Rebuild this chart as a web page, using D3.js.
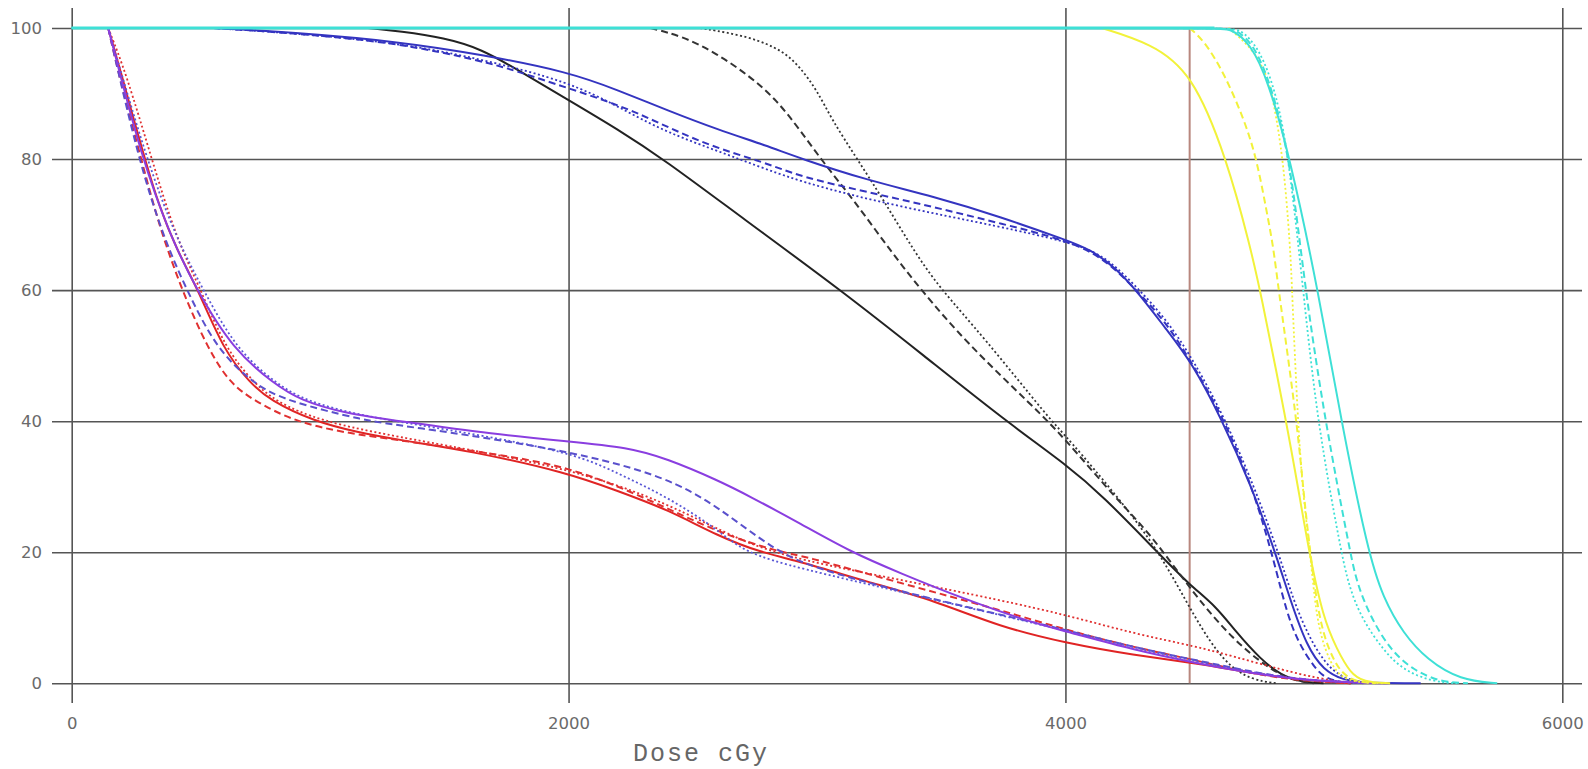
<!DOCTYPE html>
<html lang="en">
<head>
<meta charset="UTF-8">
<title>DVH</title>
<script src="https://cdn.jsdelivr.net/npm/d3@7"></script>
<style>
  body { margin: 0; background: #fff; }
  svg { display: block; }
</style>
</head>
<body>
<svg width="1588" height="769"></svg>
<script>
// ticks
var xTicks = [0, 2000, 4000, 6000];
var yTicks = [0, 20, 40, 60, 80, 100];
var refDose = 4500;

// [dose cGy, volume %]
var blackSolid = [[1193,100],[1322,99.5],[1500,98.5],[1650,96.8],[1800,93.5],[2000,89],[2200,84.5],[2382,80],[2700,71],[3096,60],[3430,50],[3760,40],[4006,33.3],[4153,28.5],[4368,20.1],[4500,15],[4605,11.8],[4685,7.9],[4787,3.6],[4870,1.2],[4945,0.25],[5039,0]];
var blackDashed = [[2330,100],[2462,98.7],[2597,96.1],[2731,92.6],[2838,89],[2932,84.4],[3039,78.8],[3147,73.8],[3294,66.1],[3415,60.2],[3603,51.9],[3871,42.2],[3992,37.6],[4207,28],[4341,22.9],[4515,13.7],[4676,6.6],[4811,2.5],[4905,0.5],[5000,0]];
var blackDotted = [[2530,100],[2731,98.7],[2865,96.5],[2932,94],[3000,90.5],[3060,86],[3160,80.1],[3267,73.8],[3388,66.1],[3496,60.2],[3670,52.9],[3938,40.2],[4006,37.6],[4220,28],[4380,20],[4520,10],[4640,3],[4750,0.5],[4850,0]];

var blueSolid = [[570,100],[900,99.3],[1322,97.9],[1656,95.9],[2000,93.3],[2200,90.5],[2400,87.4],[2600,84.5],[2800,82],[2932,80.1],[3200,76.8],[3468,74.3],[3737,71.2],[4006,67.6],[4100,66.2],[4200,63.5],[4300,59.3],[4400,54.3],[4509,49],[4630,40.2],[4744,30.5],[4844,20.1],[4905,12.7],[4972,5.6],[5039,2],[5118,0.5],[5200,0.05],[5430,0]];
var blueDashed = [[570,100],[900,99.2],[1322,97.7],[1656,94.9],[1777,93.6],[2000,90.8],[2262,87.5],[2530,82.4],[2798,79.4],[2932,77.3],[3200,75],[3468,72.7],[3737,70.2],[4006,67.6],[4150,65],[4274,60.5],[4408,55],[4515,48.5],[4640,40.2],[4740,31],[4800,24],[4850,17],[4890,11],[4932,6.6],[4999,2.5],[5052,0.5],[5150,0]];
var blueDotted = [[570,100],[900,99.2],[1322,97.7],[1656,95.2],[2000,91.8],[2200,88],[2395,84],[2663,80.4],[2932,76.4],[3335,72.7],[3737,69.7],[4006,67.4],[4150,65.5],[4274,61],[4408,55.5],[4520,49],[4645,40.2],[4760,30],[4857,20],[4917,12.7],[4985,6.6],[5065,2],[5150,0.3],[5250,0]];

var redSolid = [[147,100],[200,93],[250,86],[295,80],[350,73],[423,66.1],[510,60],[610,50.9],[718,45.8],[798,43.2],[973,40],[1150,38.3],[1322,37.1],[1600,35.5],[2000,32.1],[2200,29.3],[2400,26.5],[2600,22.5],[2771,20],[2932,18.6],[3200,15.5],[3469,12.7],[3737,8.6],[4006,6.1],[4274,4.3],[4529,3.05],[4744,1.6],[4945,0.5],[5146,0]];
var redDashed = [[147,100],[195,92],[280,80],[350,70],[443,60],[550,50.9],[637,45.8],[731,43.2],[892,40],[1100,38.2],[1322,37.1],[1700,35],[2000,33.1],[2300,28.5],[2600,23],[2850,20],[2932,19.6],[3335,15.3],[3737,11.2],[4006,8.1],[4274,5.5],[4529,3.5],[4744,1.5],[4945,0.4],[5150,0]];
var redDotted = [[147,100],[220,93],[322,80],[420,68],[520,60],[620,51],[730,46],[820,43],[1000,40],[1322,37.5],[2000,33],[2400,27.5],[2700,21.5],[2932,18.8],[3335,15.8],[3737,12.7],[4006,10.4],[4274,7.6],[4529,5.6],[4676,4.1],[4878,2],[5012,0.8],[5146,0]];

var purpleSolid = [[147,100],[282,80],[400,68],[503,60],[650,50.9],[812,45.8],[919,43.2],[1100,41.2],[1322,40],[1700,38],[2000,36.9],[2240,36],[2395,34.3],[2600,31],[2731,28.5],[2932,24.4],[3133,20.1],[3335,16.8],[3603,12.7],[3871,9.2],[4006,7.9],[4274,5.1],[4529,3.05],[4744,1.6],[4945,0.5],[5200,0.05],[5300,0]];
var purpleDashed = [[147,100],[268,80],[370,68],[463,60],[584,50.9],[731,45.8],[852,43.2],[1188,40],[1322,39.4],[2000,35.6],[2395,31.5],[2600,27],[2838,20],[3000,17.5],[3335,14],[3737,10.5],[4006,8.1],[4274,5.5],[4529,3.5],[4744,1.8],[4945,0.5],[5250,0]];
var purpleDotted = [[147,100],[300,80],[420,68],[530,60],[663,50.9],[830,45.5],[950,43],[1150,41],[1322,39.9],[2000,35.6],[2200,32],[2395,28.5],[2600,23.5],[2704,20],[2932,17.5],[3335,14],[3737,10.4],[4006,8],[4274,5.5],[4529,3.3],[4744,1.7],[4945,0.5],[5200,0]];

var yellowSolid = [[4146,100],[4341,97.7],[4509,93.3],[4650,80],[4744,66.6],[4784,60],[4889,40],[4945,28],[4981,20],[5037,10],[5094,5.1],[5146,1.6],[5199,0.2],[5307,0]];
var yellowDashed = [[4500,100],[4560,98],[4640,93],[4720,86],[4770,80],[4810,72],[4837,66.6],[4858,60],[4932,40],[4960,28.5],[4985,20],[5020,10],[5060,5],[5110,1.5],[5170,0.2],[5250,0]];
var yellowDotted = [[4656,100],[4750,97],[4810,93],[4837,89],[4877,80],[4905,66.6],[4912,60],[4935,40],[4957,28.5],[4985,20],[5010,10],[5045,5],[5090,1.5],[5150,0.2],[5280,0]];

var cyanSolid = [[0,100],[4600,100],[4663,100],[4744,97.7],[4816,92],[4905,80],[5017,60],[5110,40],[5218,20],[5279,13],[5360,7.6],[5456,3.6],[5589,0.5],[5738,0]];
var cyanDashed = [[0,100],[4620,100],[4680,100],[4760,97.5],[4830,91],[4905,80],[4965,60],[5045,40],[5146,20],[5173,15.3],[5227,10.2],[5307,5.1],[5400,2],[5509,0.2],[5620,0]];
var cyanDotted = [[0,100],[4640,100],[4700,100],[4780,97],[4850,90],[4900,80],[4957,60],[5013,40],[5110,20],[5140,15],[5190,10],[5280,5],[5360,2],[5480,0.2],[5580,0]];

var svg = d3.select('svg');

// scales: x 0..6000, y 0..100
var x = d3.scaleLinear().domain([0, 6000]).range([71.7, 1562.3]);
var y = d3.scaleLinear().domain([0, 100]).range([683.3, 28]);

// grid lines stick out 20px past the plot on every side
var axisY = d3.axisLeft(y).tickValues(yTicks).tickSize(-1530).tickPadding(10).tickFormat(d3.format('d'));
var axisX = d3.axisBottom(x).tickValues(xTicks).tickSize(-695).tickPadding(14).tickFormat(d3.format('d'));

var gy = svg.append('g').attr('transform', 'translate(52,0)').call(axisY);
var gx = svg.append('g').attr('transform', 'translate(0,703)').call(axisX);

[gx, gy].forEach(function (g) {
    g.select('.domain').remove();
    g.selectAll('line').attr('stroke', '#555').attr('stroke-width', 1.6);
    g.selectAll('text')
        .attr('fill', '#6a6a6a')
        .style('font-family', '"DejaVu Sans", Verdana, sans-serif')
        .style('font-size', '16.5px');
});

// x axis title
svg.append('text')
    .attr('x', 633).attr('y', 761)
    .attr('fill', '#666')
    .style('font-family', '"Courier New", "Liberation Mono", monospace')
    .style('font-size', '25px')
    .style('letter-spacing', '2px')
    .text('Dose cGy');

// reference dose line
svg.append('line')
    .attr('x1', x(refDose)).attr('x2', x(refDose))
    .attr('y1', y(100)).attr('y2', y(0))
    .attr('stroke', '#b8877e').attr('stroke-width', 2);

var line = d3.line()
    .x(function (d) { return x(d[0]); })
    .y(function (d) { return y(d[1]); })
    .curve(d3.curveBasis);

var DASH = '7,4', DOT = '2,2.5';
var curves = [
    {d: blackSolid, c: '#222', s: null},
    {d: blackDashed, c: '#333', s: DASH},
    {d: blackDotted, c: '#333', s: DOT},
    {d: blueSolid, c: '#3434c0', s: null},
    {d: blueDashed, c: '#3434c0', s: DASH},
    {d: blueDotted, c: '#3434c0', s: DOT},
    {d: redSolid, c: '#e02424', s: null},
    {d: redDashed, c: '#e03030', s: DASH},
    {d: redDotted, c: '#e03030', s: DOT},
    {d: purpleDashed, c: '#5a50cc', s: DASH},
    {d: purpleDotted, c: '#5a58d6', s: DOT},
    {d: purpleSolid, c: '#8a3ee0', s: null},
    {d: yellowSolid, c: '#f2f23a', s: null},
    {d: yellowDashed, c: '#f2f23a', s: DASH},
    {d: yellowDotted, c: '#f2f23a', s: DOT},
    {d: cyanDotted, c: '#3ee0d6', s: DOT},
    {d: cyanDashed, c: '#3ee0d6', s: DASH},
    {d: cyanSolid, c: '#3ee0d6', s: null}
];

svg.append('g').selectAll('path').data(curves).enter().append('path')
    .attr('d', function (k) { return line(k.d); })
    .attr('fill', 'none')
    .attr('stroke', function (k) { return k.c; })
    .attr('stroke-width', function (k) { return k.s === DOT ? 1.8 : 2; })
    .attr('stroke-dasharray', function (k) { return k.s; });

// cyan plateau at 100% sits on top
svg.append('path')
    .attr('d', line(cyanSolid.slice(0, 2)))
    .attr('fill', 'none').attr('stroke', '#3ee0d6').attr('stroke-width', 3);
</script>
</body>
</html>
